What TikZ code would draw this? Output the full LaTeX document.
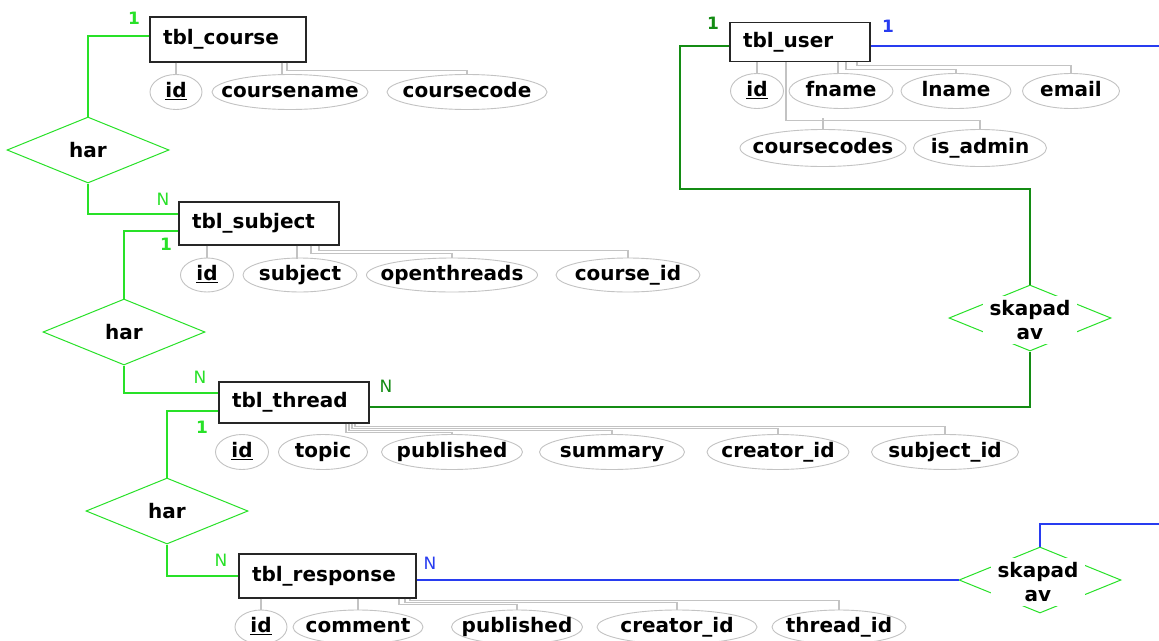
\documentclass[tikz,border=0pt]{standalone}
\usepackage{fontspec}
\setmainfont{DejaVu Sans}
\usetikzlibrary{shapes.geometric}
\definecolor{lgreen}{RGB}{40,225,40}
\definecolor{dgreen}{RGB}{20,140,20}
\definecolor{blueone}{RGB}{40,60,240}
\definecolor{attgray}{RGB}{195,195,195}
\newcommand{\efont}{\fontsize{20}{24}\selectfont\bfseries}
\newcommand{\cfont}{\fontsize{17}{19}\selectfont}
\newcommand{\attxt}[1]{\makebox[0pt]{\raisebox{-0.5ex}[0pt][0pt]{#1}}}
\tikzset{
  ent/.style={draw=black!85, fill=white, line width=1.3pt, inner xsep=13pt, inner ysep=0pt, align=left, font=\efont},
  att/.style={ellipse, draw=attgray, line width=0.9pt, inner sep=0pt, font=\efont},
  al/.style={draw=attgray, line width=1.1pt},
  rel/.style={diamond, draw=lgreen, line width=1pt, inner sep=0pt, minimum width=162pt, minimum height=66pt, font=\efont},
  reltext/.style={fill=white, inner xsep=7pt, inner ysep=4pt, align=center, font=\efont},
  lg/.style={draw=lgreen, line width=1.3pt},
  dg/.style={draw=dgreen, line width=1.3pt},
  bl/.style={draw=blueone, line width=1.3pt},
  cardlg/.style={text=lgreen, font=\cfont},
  carddg/.style={text=dgreen, font=\cfont},
  cardbl/.style={text=blueone, font=\cfont}
}
\begin{document}
\begin{tikzpicture}[x=1pt,y=-1pt]
\useasboundingbox[fill=white] (0,0) rectangle (1159,640);

% entities
\node[ent, text width=130pt, minimum height=45pt] (course) at (228,39.5) {tbl\_course};
\node[ent, text width=114pt, minimum height=39pt] (user) at (800,42) {tbl\_user};
\node[ent, text width=134pt, minimum height=43pt] (subject) at (259,223.5) {tbl\_subject};
\node[ent, text width=124pt, minimum height=41pt] (thread) at (294,402.5) {tbl\_thread};
\node[ent, text width=151pt, minimum height=44pt] (response) at (327.5,576) {tbl\_response};

% relationships
\node[rel] (har1) at (88,150) {har};
\node[rel] (har2) at (124,332) {har};
\node[rel] (har3) at (167,511) {har};
\node[rel] (sk1) at (1030,318) {};
\node[reltext] (sk1t) at (1030,320) {skapad\\av};
\node[rel] (sk2) at (1040,580) {};
\node[reltext] (sk2t) at (1038,582) {skapad\\av};

% attributes: course
\node[att, minimum width=52pt, minimum height=35pt] (cid) at (176,92) {\attxt{\underline{id}}};
\node[att, minimum width=156pt, minimum height=35pt] (cname) at (290,92) {\attxt{coursename}};
\node[att, minimum width=160pt, minimum height=35pt] (ccode) at (467,92) {\attxt{coursecode}};
% attributes: user
\node[att, minimum width=53pt, minimum height=35pt] (uid) at (757,91) {\attxt{\underline{id}}};
\node[att, minimum width=104pt, minimum height=35pt] (fname) at (841,91) {\attxt{fname}};
\node[att, minimum width=110pt, minimum height=35pt] (lname) at (956,91) {\attxt{lname}};
\node[att, minimum width=97pt, minimum height=35pt] (email) at (1071,91) {\attxt{email}};
\node[att, minimum width=166pt, minimum height=37pt] (ccodes) at (823,148) {\attxt{coursecodes}};
\node[att, minimum width=133pt, minimum height=37pt] (isadm) at (980,148) {\attxt{is\_admin}};
% attributes: subject
\node[att, minimum width=53pt, minimum height=34pt] (sid) at (207,275) {\attxt{\underline{id}}};
\node[att, minimum width=114pt, minimum height=34pt] (subj) at (300,275) {\attxt{subject}};
\node[att, minimum width=171pt, minimum height=34pt] (othr) at (452,275) {\attxt{openthreads}};
\node[att, minimum width=144pt, minimum height=34pt] (crsid) at (628,275) {\attxt{course\_id}};
% attributes: thread
\node[att, minimum width=53pt, minimum height=35pt] (tid) at (242,452) {\attxt{\underline{id}}};
\node[att, minimum width=89pt, minimum height=35pt] (topic) at (323,452) {\attxt{topic}};
\node[att, minimum width=141pt, minimum height=35pt] (tpub) at (452,452) {\attxt{published}};
\node[att, minimum width=145pt, minimum height=35pt] (summ) at (612,452) {\attxt{summary}};
\node[att, minimum width=142pt, minimum height=35pt] (tcre) at (778,452) {\attxt{creator\_id}};
\node[att, minimum width=147pt, minimum height=35pt] (tsub) at (945,452) {\attxt{subject\_id}};
% attributes: response
\node[att, minimum width=52pt, minimum height=34pt] (rid) at (261,627) {\attxt{\underline{id}}};
\node[att, minimum width=130pt, minimum height=34pt] (comm) at (358,627) {\attxt{comment}};
\node[att, minimum width=131pt, minimum height=34pt] (rpub) at (517,627) {\attxt{published}};
\node[att, minimum width=160pt, minimum height=34pt] (rcre) at (677,627) {\attxt{creator\_id}};
\node[att, minimum width=134pt, minimum height=34pt] (rthr) at (839,627) {\attxt{thread\_id}};

% attribute connectors
\draw[al] (cid.north |- course.south) -- (cid.north);
\draw[al] ([xshift=54pt]course.south) -- ++(0,12);
\draw[al] ([xshift=59pt]course.south) -- ++(0,8) -| (ccode.north);

\draw[al] (uid.north |- user.south) -- (uid.north);
\draw[al] ([xshift=38pt]user.south) -- ++(0,12);
\draw[al] ([xshift=46pt]user.south) -- ++(0,7) -| (lname.north);
\draw[al] ([xshift=57pt]user.south) -- ++(0,3) -| (email.north);
\draw[al] ([xshift=-14pt]user.south) -- ++(0,58) -| (isadm.north);
\draw[al] (ccodes.north) -- ++(0,-11);

\draw[al] (sid.north |- subject.south) -- (sid.north);
\draw[al] ([xshift=38pt]subject.south) -- ++(0,13);
\draw[al] ([xshift=52pt]subject.south) -- ++(0,8) -| (othr.north);
\draw[al] ([xshift=60pt]subject.south) -- ++(0,5) -| (crsid.north);

\draw[al] ([xshift=52pt]thread.south) -- ++(0,9) -| (tpub.north);
\draw[al] ([xshift=55pt]thread.south) -- ++(0,7) -| (summ.north);
\draw[al] ([xshift=58pt]thread.south) -- ++(0,5) -| (tcre.north);
\draw[al] ([xshift=61pt]thread.south) -- ++(0,3) -| (tsub.north);

\draw[al] (rid.north |- response.south) -- (rid.north);
\draw[al] (comm.north |- response.south) -- (comm.north);
\draw[al] ([xshift=71.5pt]response.south) -- ++(0,6) -| (rpub.north);
\draw[al] ([xshift=77.5pt]response.south) -- ++(0,4) -| (rcre.north);
\draw[al] ([xshift=82.5pt]response.south) -- ++(0,2) -| (rthr.north);

% relationship connectors
\coordinate (ucorner) at (680,189);
\coordinate (uend) at (1159,46);
\coordinate (rend) at (1159,524);

\draw[lg] ([yshift=3.5pt]course.west) -| (har1.north);
\draw[lg] (har1.south) |- ([yshift=9.5pt]subject.west);
\draw[lg] ([yshift=-7.5pt]subject.west) -| (har2.north);
\draw[lg] (har2.south) |- ([yshift=9.5pt]thread.west);
\draw[lg] ([yshift=-8.5pt]thread.west) -| (har3.north);
\draw[lg] (har3.south) |- (response.west);
\draw[dg] ([yshift=-4.5pt]thread.east) -| (sk1.south);
\draw[dg] (sk1.north) |- (ucorner) |- ([yshift=-4pt]user.west);
\draw[bl] ([yshift=-4pt]user.east) -- (uend);
\draw[bl] ([yshift=-4pt]response.east) -- (sk2.west);
\draw[bl] (sk2.north) |- (rend);

% cardinalities
\node[cardlg, font=\cfont\bfseries] (c1) at (134,18) {1};
\node[cardlg] (c2) at (163,199) {N};
\node[cardlg, font=\cfont\bfseries] (c3) at (166,244) {1};
\node[cardlg] (c4) at (200,377) {N};
\node[carddg] (c5) at (386,386) {N};
\node[cardlg, font=\cfont\bfseries] (c6) at (202,427) {1};
\node[cardlg] (c7) at (221,560) {N};
\node[cardbl] (c8) at (430,563) {N};
\node[carddg, font=\cfont\bfseries] (c9) at (713,23) {1};
\node[cardbl, font=\cfont\bfseries] (c10) at (888,26) {1};
\end{tikzpicture}
\end{document}
